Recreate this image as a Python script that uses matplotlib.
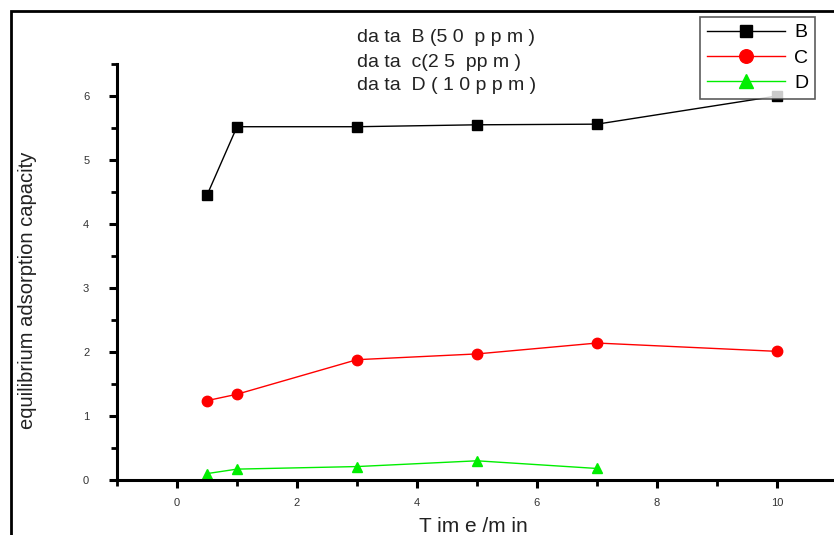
import matplotlib.pyplot as plt
from matplotlib.patches import Rectangle
from matplotlib.ticker import MultipleLocator

plt.rcParams['font.family'] = ['Liberation Sans', 'DejaVu Sans']

# data
time_b = [0.5, 1, 3, 5, 7, 10]
val_b = [4.45, 5.52, 5.52, 5.55, 5.56, 6.0]
time_c = [0.5, 1, 3, 5, 7, 10]
val_c = [1.24, 1.34, 1.88, 1.97, 2.14, 2.01]
time_d = [0.5, 1, 3, 5, 7]
val_d = [0.1, 0.17, 0.21, 0.3, 0.18]

notes = ["da ta  B (5 0  p p m )", "da ta  c(2 5  pp m )", "da ta  D ( 1 0 p p m )"]

fig = plt.figure(figsize=(8.34, 5.35), dpi=100)
ax = fig.add_axes([117 / 834, 1 - 480 / 535, 720 / 834, 416 / 535])

ax.plot(time_b, val_b, color='black', lw=1, marker='s', ms=6.5, label='B')
ax.plot(time_c, val_c, color='red', lw=1, marker='o', ms=7.5, label='C')
ax.plot(time_d, val_d, color='#00ee00', lw=1, marker='^', ms=7.5, label='D')

ax.set_xlim(-1, 11)
ax.set_ylim(0, 6.5)
ax.xaxis.set_major_locator(MultipleLocator(2))
ax.xaxis.set_minor_locator(MultipleLocator(1))
ax.yaxis.set_major_locator(MultipleLocator(1))
ax.yaxis.set_minor_locator(MultipleLocator(0.5))
ax.tick_params(which='major', direction='out', length=6, width=2.2,
               labelsize=8, labelcolor='#333333')
ax.tick_params(axis='y', which='major', pad=14)
ax.tick_params(axis='x', which='major', pad=7)
ax.tick_params(which='minor', direction='out', length=4, width=2)
for s in ['top', 'right']:
    ax.spines[s].set_visible(False)
for s in ['left', 'bottom']:
    ax.spines[s].set_linewidth(2.2)

ax.set_xlabel("T im e /m in", fontsize=15, color='#222222')
ax.xaxis.set_label_coords((473 - 117) / 720, -(517 - 480) / 416)
ax.set_ylabel("equilibrium adsorption capacity", fontsize=14.5,
              color='#222222')
ax.yaxis.set_label_coords(-(117 - 37) / 720, (480 - 290) / 416)

leg = ax.legend(loc='upper left', bbox_to_anchor=(700 / 834, 1 - 17 / 535),
                bbox_transform=fig.transFigure, frameon=True, fancybox=False,
                edgecolor='#333333', fontsize=14, handlelength=4.0,
                borderpad=0.35, labelspacing=0.4, handletextpad=0.5,
                borderaxespad=0, markerscale=1.3)
leg.get_frame().set_linewidth(1.2)

for i, t in enumerate(notes):
    fig.text(357 / 834, 1 - (38 + 24 * i) / 535, t, fontsize=14,
             color='#222222', va='center', ha='left')

# outer frame (cropped on right and bottom)
fig.patches.append(Rectangle((11 / 834, -0.1), 1.1, 1 - 11 / 535 + 0.1,
                             transform=fig.transFigure, fill=False,
                             edgecolor='black', lw=2, clip_on=False))

fig.savefig('out.png', dpi=100)
